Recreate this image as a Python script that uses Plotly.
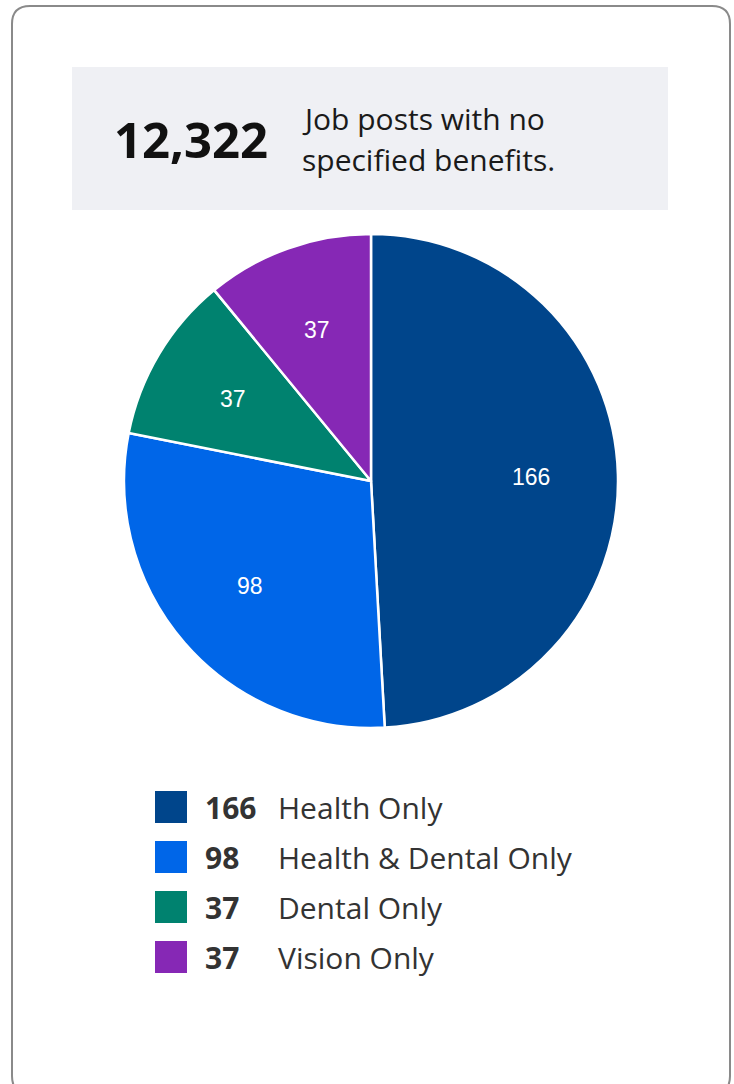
import math
import plotly.graph_objects as go

# ---- data ----
categories = ["Health Only", "Health & Dental Only", "Dental Only", "Vision Only"]
values = [166, 98, 37, 37]
colors = ["#00458B", "#0066E8", "#00826F", "#8628B5"]
headline_value = "12,322"
headline_text = ["Job posts with no", "specified benefits."]

W, H = 734, 1084
FONT = "Open Sans"

fig = go.Figure()

# pie geometry (pixels)
cx, cy, R = 371, 481, 247
fig.add_trace(go.Pie(
    values=values,
    labels=categories,
    marker=dict(colors=colors, line=dict(color="white", width=2.5)),
    sort=False,
    direction="clockwise",
    rotation=0,
    textinfo="none",
    hoverinfo="label+value",
    showlegend=False,
    domain=dict(x=[(cx - R) / W, (cx + R) / W], y=[1 - (cy + R) / H, 1 - (cy - R) / H]),
))

annotations = []
shapes = []

# slice value labels at 0.65 R along mid angle
total = sum(values)
cum = 0
for v in values:
    mid = (cum + v / 2) / total * 2 * math.pi
    cum += v
    lx = cx + 0.65 * R * math.sin(mid)
    ly = cy - 0.65 * R * math.cos(mid)
    annotations.append(dict(x=lx, y=ly, xref="x", yref="y", text=str(v), showarrow=False,
                            font=dict(family="Liberation Sans, Arial", size=23, color="white"),
                            xanchor="center", yanchor="middle"))

# card border (rounded rect)
x0, y0, x1, y1, r = 12, 6, 730, 1094, 18
path = (f"M {x0+r},{y0} L {x1-r},{y0} Q {x1},{y0} {x1},{y0+r} L {x1},{y1-r} Q {x1},{y1} {x1-r},{y1} "
        f"L {x0+r},{y1} Q {x0},{y1} {x0},{y1-r} L {x0},{y0+r} Q {x0},{y0} {x0+r},{y0} Z")
shapes.append(dict(type="path", path=path, xref="x", yref="y", line=dict(color="#8a8a8a", width=2),
                   fillcolor="rgba(0,0,0,0)", layer="below"))

# header grey box
shapes.append(dict(type="rect", x0=72, x1=668, y0=67, y1=210, xref="x", yref="y",
                   fillcolor="#EFF0F4", line=dict(width=0), layer="below"))
annotations.append(dict(x=112, y=139, xref="x", yref="y", text=f"<b>{headline_value}</b>", showarrow=False,
                        font=dict(family=FONT, size=49, color="#111111"), xanchor="left", yanchor="middle"))
for i, t in enumerate(headline_text):
    annotations.append(dict(x=300, y=118 + 41 * i, xref="x", yref="y", text=t, showarrow=False,
                            font=dict(family=FONT, size=30, color="#1a1a1a"), xanchor="left", yanchor="middle"))

# custom legend
for i, (c, v, lab) in enumerate(zip(colors, values, categories)):
    yc = 807 + 50 * i
    shapes.append(dict(type="rect", x0=155, x1=187, y0=yc - 16, y1=yc + 16, xref="x", yref="y",
                       fillcolor=c, line=dict(width=0)))
    annotations.append(dict(x=203, y=yc, xref="x", yref="y", text=f"<b>{v}</b>", showarrow=False,
                            font=dict(family=FONT, size=30, color="#333333"), xanchor="left", yanchor="middle"))
    annotations.append(dict(x=276, y=yc, xref="x", yref="y", text=lab, showarrow=False,
                            font=dict(family=FONT, size=30, color="#333333"), xanchor="left", yanchor="middle"))

fig.update_layout(
    width=W, height=H,
    margin=dict(l=0, r=0, t=0, b=0),
    paper_bgcolor="white", plot_bgcolor="rgba(0,0,0,0)",
    xaxis=dict(range=[0, W], visible=False, fixedrange=True),
    yaxis=dict(range=[H, 0], visible=False, fixedrange=True),
    shapes=shapes, annotations=annotations,
    showlegend=False,
)
fig.write_html("out.html", config={"displayModeBar": False},
               post_script="document.body.style.margin='0';document.body.style.overflow='hidden';")
